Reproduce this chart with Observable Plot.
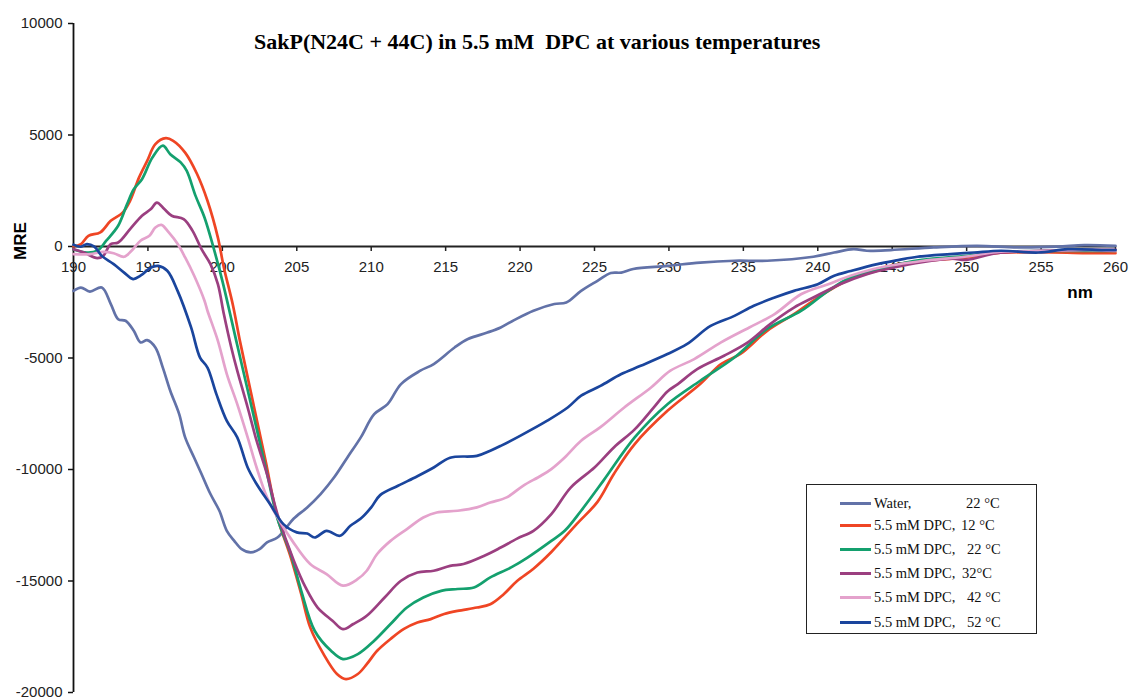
<!DOCTYPE html>
<html>
<head>
<meta charset="utf-8">
<script src="https://cdn.jsdelivr.net/npm/d3@7"></script>
<script src="https://cdn.jsdelivr.net/npm/@observablehq/plot@0.6"></script>
<style>
  html, body { margin: 0; padding: 0; background: #fff; }
  #wrap { position: relative; width: 1130px; height: 700px; overflow: hidden; }
  #title { position: absolute; left: 254px; top: 31px; font: bold 22px "Liberation Serif", "Times New Roman", serif; line-height: 22px; white-space: pre; color: #000; }
  .axlab { position: absolute; font: bold 17px "Liberation Sans", Arial, sans-serif; color: #000; line-height: 17px; }
  #ylab { left: 20px; top: 241px; transform: translate(-50%, -50%) rotate(-90deg); }
  #xlab { left: 1080px; top: 292px; transform: translate(-50%, -50%); }
  #legend { position: absolute; left: 806px; top: 484px; width: 231px; height: 150px; border: 1.5px solid #222; background: #fff; box-sizing: border-box; font: 14.5px "Liberation Serif", "Times New Roman", serif; color: #111; }
  .row { position: absolute; left: 0; height: 20px; width: 100%; }
  .sw { position: absolute; left: 33px; top: 9px; width: 31px; height: 3px; }
  .lt { position: absolute; left: 67px; top: 1px; white-space: pre; line-height: 18px; }
  .tp { position: absolute; top: 1px; white-space: pre; line-height: 18px; }
</style>
</head>
<body>
<div id="wrap">
  <div id="chart"></div>
  <div id="title">SakP(N24C + 44C) in 5.5 mM  DPC at various temperatures</div>
  <div id="ylab" class="axlab">MRE</div>
  <div id="xlab" class="axlab">nm</div>
  <div id="legend"></div>
</div>
<script>
// ---- Data ----
const seriesNames = ["Water 22", "DPC 12", "DPC 22", "DPC 32", "DPC 42", "DPC 52"];
const seriesColors = ["#6272A8", "#EF4524", "#14A06E", "#9B3F80", "#E4A2CC", "#1A459D"];
const legendLabels = ["Water,", "5.5 mM DPC,", "5.5 mM DPC,", "5.5 mM DPC,", "5.5 mM DPC,", "5.5 mM DPC,"];
const legendTemps = ["22 \u00B0C", "12 \u00B0C", "22 \u00B0C", "32\u00B0C", "42 \u00B0C", "52 \u00B0C"];
const legendTempLeft = [159, 154, 160, 155, 160, 160];

const xTicks = [190, 195, 200, 205, 210, 215, 220, 225, 230, 235, 240, 245, 250, 255, 260];
const yTicks = [-20000, -15000, -10000, -5000, 0, 5000, 10000];

const nmWater = [190, 190.5, 191.1, 191.9, 192.5, 193.0, 193.5, 194.05, 194.5, 194.95, 195.5, 196.0, 196.5, 197.1, 197.5, 198.1, 198.6, 199.2, 199.8, 200.3, 200.8, 201.3, 201.9, 202.5, 203.0, 203.7, 204.3, 204.8, 205.7, 206.6, 207.5, 208.4, 209.3, 210.2, 211.1, 212.0, 213.3, 214.2, 215.6, 216.5, 217.8, 218.7, 219.6, 220.9, 222.3, 223.1, 224.1, 225.2, 226.1, 226.8, 227.6, 229.9, 232.1, 234.4, 236.6, 239.7, 241.1, 242.4, 243.3, 244.9, 247.8, 250.7, 253.4, 256.1, 257.9, 260];
const mreWater = [-1990, -1840, -2020, -1840, -2570, -3260, -3330, -3780, -4300, -4200, -4530, -5430, -6470, -7520, -8560, -9460, -10200, -11100, -11850, -12750, -13200, -13570, -13720, -13570, -13270, -13050, -12600, -12200, -11700, -11100, -10360, -9460, -8560, -7520, -7070, -6170, -5570, -5270, -4530, -4150, -3860, -3630, -3300, -2880, -2580, -2510, -1990, -1540, -1190, -1170, -1010, -870, -720, -640, -640, -460, -270, -120, -190, -160, -40, 30, -40, -10, 60, 30];

const nm12 = [190, 190.5, 191.0, 191.8, 192.5, 193.3, 193.8, 194.4, 194.95, 195.5, 196.2, 196.7, 197.5, 198.3, 199.0, 199.7, 200.1, 200.7, 201.2, 202.0, 202.9, 203.7, 204.6, 205.3, 205.9, 206.8, 207.7, 208.3, 209.1, 209.7, 210.4, 211.3, 212.2, 213.1, 214.0, 214.9, 215.8, 217.1, 218.0, 218.9, 219.8, 220.9, 222.1, 223.8, 225.2, 226.3, 227.7, 229.9, 232.1, 233.5, 234.8, 236.6, 238.4, 240.0, 241.1, 242.4, 244.0, 245.4, 247, 250, 252, 255, 258, 260];
const mre12 = [0, 110, 480, 630, 1150, 1520, 2050, 3090, 3840, 4590, 4860, 4740, 4210, 3250, 2050, 400, -940, -2600, -4300, -6800, -9600, -12150, -13950, -15590, -17080, -18280, -19170, -19400, -19170, -18730, -18130, -17600, -17150, -16860, -16710, -16480, -16340, -16190, -16040, -15590, -15000, -14450, -13700, -12450, -11450, -10200, -8860, -7370, -6170, -5270, -4820, -3780, -3030, -2290, -1840, -1390, -1090, -790, -650, -500, -300, -250, -300, -300];

const nm22 = [190, 190.9, 191.6, 192.2, 193.0, 193.6, 194.05, 194.6, 195.3, 196.0, 196.5, 197.2, 197.6, 198.2, 198.8, 199.4, 200.0, 201.0, 202.0, 203.0, 203.7, 204.6, 205.3, 206.2, 207.3, 208.1, 209.1, 210.2, 211.3, 212.4, 213.5, 214.7, 215.8, 216.9, 218.0, 219.4, 220.5, 222.1, 223.0, 224.1, 225.6, 227.7, 229.9, 232.1, 234.4, 236.6, 238.9, 240.7, 242.2, 244.5, 247, 250, 252, 255, 258, 260];
const mre22 = [-120, -270, -190, 260, 930, 1900, 2570, 3020, 3990, 4520, 4140, 3770, 3400, 2270, 1300, -40, -1540, -4420, -7300, -10180, -12200, -13800, -15440, -17230, -18130, -18500, -18280, -17680, -16930, -16190, -15740, -15440, -15360, -15290, -14840, -14390, -13950, -13200, -12750, -11850, -10500, -8560, -7070, -6020, -4980, -3700, -2880, -1990, -1390, -940, -600, -420, -250, -200, -200, -200];

const nm32 = [190, 190.7, 191.6, 192.0, 192.5, 193.0, 193.8, 194.6, 195.2, 195.6, 196.1, 196.6, 197.4, 198.0, 198.6, 199.2, 199.7, 200.1, 200.6, 201.0, 201.7, 202.3, 203.0, 203.7, 204.8, 205.6, 206.4, 207.4, 208.1, 208.8, 209.7, 210.9, 212.0, 213.1, 214.2, 215.3, 216.2, 217.6, 218.7, 219.8, 220.9, 222.1, 223.4, 225.0, 226.3, 227.7, 229.0, 229.9, 230.6, 231.9, 233.7, 235.3, 236.8, 238.4, 239.7, 241.5, 243.3, 245.1, 247, 249, 250, 252, 255, 258, 260];
const mre32 = [-120, -270, -520, -420, 110, 180, 780, 1380, 1680, 1970, 1680, 1380, 1230, 700, -120, -790, -1690, -3030, -4530, -5570, -7220, -8710, -10210, -12000, -14090, -15300, -16190, -16780, -17160, -16930, -16560, -15740, -14990, -14620, -14540, -14320, -14240, -13870, -13500, -13100, -12750, -12000, -10810, -9910, -9010, -8200, -7200, -6500, -6170, -5500, -4900, -4300, -3480, -2740, -2290, -1690, -1240, -940, -700, -550, -600, -300, -200, -150, -150];

const nm42 = [190, 191.1, 192.0, 192.7, 193.4, 193.9, 194.5, 195.1, 195.5, 195.9, 196.4, 197.0, 197.5, 198.1, 198.8, 199.0, 199.7, 200.3, 201.0, 201.7, 202.3, 203.0, 203.7, 204.7, 205.9, 207.0, 208.1, 209.1, 209.7, 210.4, 211.3, 212.4, 213.5, 214.4, 215.8, 217.1, 218.0, 219.1, 220.2, 221.4, 222.1, 223.0, 224.1, 225.4, 227.0, 228.8, 230.1, 231.7, 233.5, 235.4, 237.1, 238.9, 240.7, 242.2, 244.2, 247, 250, 252, 255, 258, 260];
const mre42 = [-340, -340, -240, -300, -460, -190, 260, 480, 850, 970, 630, 110, -490, -1300, -2430, -2880, -4230, -5720, -7070, -8560, -9910, -11250, -12150, -13200, -14240, -14690, -15210, -14910, -14540, -13790, -13200, -12670, -12150, -11930, -11850, -11700, -11480, -11250, -10730, -10280, -9980, -9460, -8710, -8100, -7220, -6320, -5570, -5050, -4300, -3630, -3030, -2130, -1690, -1310, -940, -650, -450, -250, -200, -150, -200];

const nm52 = [190, 190.5, 190.9, 191.4, 191.9, 192.7, 193.4, 194.0, 194.5, 195.2, 195.7, 196.3, 197.0, 197.9, 198.5, 199.0, 199.6, 200.3, 201.0, 201.7, 202.3, 203.2, 204.1, 205.0, 205.7, 206.2, 207.0, 207.9, 208.6, 209.3, 210.0, 210.6, 211.8, 213.1, 214.2, 215.3, 217.1, 218.0, 218.7, 220.0, 221.8, 223.2, 224.1, 225.4, 226.8, 228.1, 229.9, 231.2, 232.8, 234.4, 235.7, 237.1, 238.4, 240.0, 241.1, 242.2, 244.0, 245.4, 246.7, 248.9, 250.5, 252.3, 254.8, 256.8, 259.2, 260];
const mre52 = [80, -10, 110, -10, -420, -790, -1170, -1460, -1310, -940, -870, -1090, -2000, -3630, -4980, -5430, -6620, -7820, -8560, -9910, -10650, -11550, -12450, -12820, -12870, -13050, -12750, -12970, -12520, -12200, -11700, -11150, -10730, -10300, -9910, -9470, -9390, -9160, -8940, -8490, -7820, -7220, -6690, -6250, -5720, -5350, -4820, -4380, -3560, -3110, -2660, -2290, -1990, -1690, -1310, -1100, -790, -610, -460, -340, -270, -190, -270, -120, -160, -160];

const seriesNm = [nmWater, nm12, nm22, nm32, nm42, nm52];
const seriesMre = [mreWater, mre12, mre22, mre32, mre42, mre52];

// ---- Build table ----
const rows = [];
seriesNames.forEach((name, i) => {
  seriesNm[i].forEach((x, j) => rows.push({series: name, nm: x, mre: seriesMre[i][j]}));
});

const chart = Plot.plot({
  width: 1130,
  height: 700,
  marginLeft: 73,
  marginRight: 15,
  marginTop: 23,
  marginBottom: 8,
  style: {fontFamily: '"Liberation Sans", Arial, sans-serif', fontSize: "15px", color: "#222", background: "#fff"},
  x: {domain: [190, 260], axis: null},
  y: {domain: [-20000, 10000]},
  color: {domain: seriesNames, range: seriesColors},
  marks: [
    Plot.axisY({ticks: yTicks, tickSize: 5, tickPadding: 6, tickFormat: d => String(d), label: null, fontSize: 15, fill: "#222", stroke: "#111", strokeWidth: 1.5}),
    Plot.ruleX([190], {stroke: "#111", strokeWidth: 1.8}),
    Plot.ruleY([0], {stroke: "#222", strokeWidth: 1.8}),
    Plot.ruleX(xTicks, {x: d => d, y1: 0, y2: 0, insetBottom: -5, stroke: "#222", strokeWidth: 1.5}),
    Plot.text(xTicks, {x: d => d, y: 0, dy: 21, text: d => String(d), fontSize: 15, fill: "#222"}),
    Plot.line(rows, {x: "nm", y: "mre", z: "series", stroke: "series", strokeWidth: 2.7, curve: "catmull-rom"})
  ]
});
document.getElementById("chart").appendChild(chart);

// ---- Legend ----
const leg = document.getElementById("legend");
const rowTops = [8, 30, 54, 78, 102, 127];
seriesNames.forEach((name, i) => {
  const r = document.createElement("div");
  r.className = "row";
  r.style.top = rowTops[i] + "px";
  const sw = document.createElement("div");
  sw.className = "sw";
  sw.style.background = seriesColors[i];
  const lt = document.createElement("div");
  lt.className = "lt";
  lt.textContent = legendLabels[i];
  const tp = document.createElement("div");
  tp.className = "tp";
  tp.style.left = legendTempLeft[i] + "px";
  tp.textContent = legendTemps[i];
  r.appendChild(sw); r.appendChild(lt); r.appendChild(tp);
  leg.appendChild(r);
});
</script>
</body>
</html>
